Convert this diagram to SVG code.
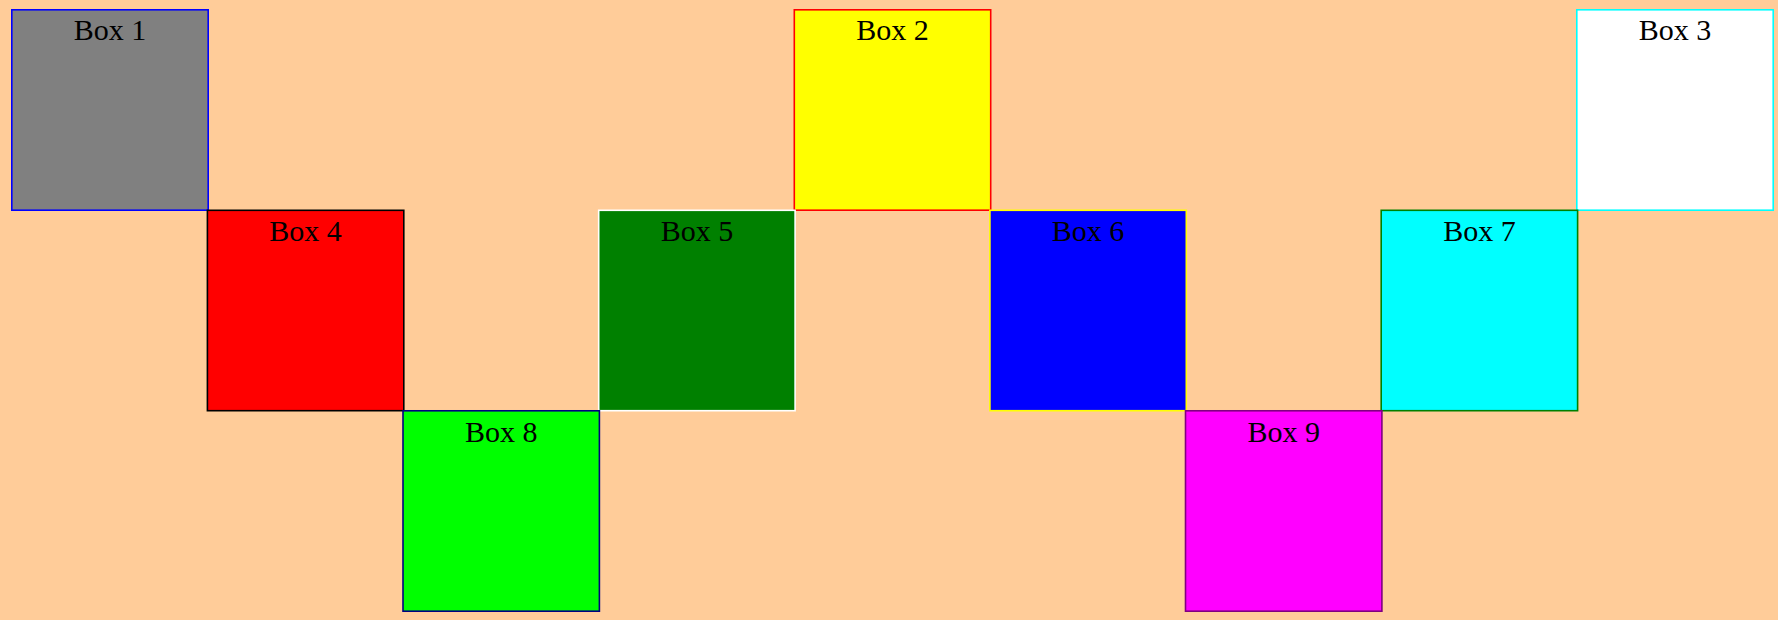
<svg xmlns="http://www.w3.org/2000/svg" width="1778" height="620" viewBox="0 0 1778 620">
<style>
.box{stroke-width:1.6}
.lbl{font-family:"Liberation Serif","Times New Roman",serif;font-size:30px;fill:#000;text-anchor:middle}
</style>
<rect x="0" y="0" width="1778" height="620" fill="#FFCC99"/>
<g id="box1"><rect class="box" x="11.8" y="9.8" width="196.4" height="200.4" fill="#808080" stroke="#0000FF"/><text class="lbl" x="110" y="40">Box 1</text></g>
<g id="box2"><rect class="box" x="794.3" y="9.8" width="196.4" height="200.4" fill="#FFFF00" stroke="#FF0000"/><text class="lbl" x="892.5" y="40">Box 2</text></g>
<g id="box3"><rect class="box" x="1576.8" y="9.8" width="196.4" height="200.4" fill="#FFFFFF" stroke="#00FFFF"/><text class="lbl" x="1675" y="40">Box 3</text></g>
<g id="box4"><rect class="box" x="207.4" y="210.3" width="196.4" height="200.4" fill="#FF0000" stroke="#000000"/><text class="lbl" x="305.6" y="241">Box 4</text></g>
<g id="box5"><rect class="box" x="598.7" y="210.3" width="196.4" height="200.4" fill="#008000" stroke="#FFFFFF"/><text class="lbl" x="696.9" y="241">Box 5</text></g>
<g id="box6"><rect class="box" x="989.9" y="210.3" width="196.4" height="200.4" fill="#0000FF" stroke="#FFFF00"/><text class="lbl" x="1088.1" y="241">Box 6</text></g>
<g id="box7"><rect class="box" x="1381.2" y="210.3" width="196.4" height="200.4" fill="#00FFFF" stroke="#008000"/><text class="lbl" x="1479.4" y="241">Box 7</text></g>
<g id="box8"><rect class="box" x="403" y="410.8" width="196.4" height="200.4" fill="#00FF00" stroke="#000080"/><text class="lbl" x="501.2" y="441.5">Box 8</text></g>
<g id="box9"><rect class="box" x="1185.5" y="410.8" width="196.4" height="200.4" fill="#FF00FF" stroke="#800080"/><text class="lbl" x="1283.7" y="441.5">Box 9</text></g>
<g id="connectors"></g>
</svg>
